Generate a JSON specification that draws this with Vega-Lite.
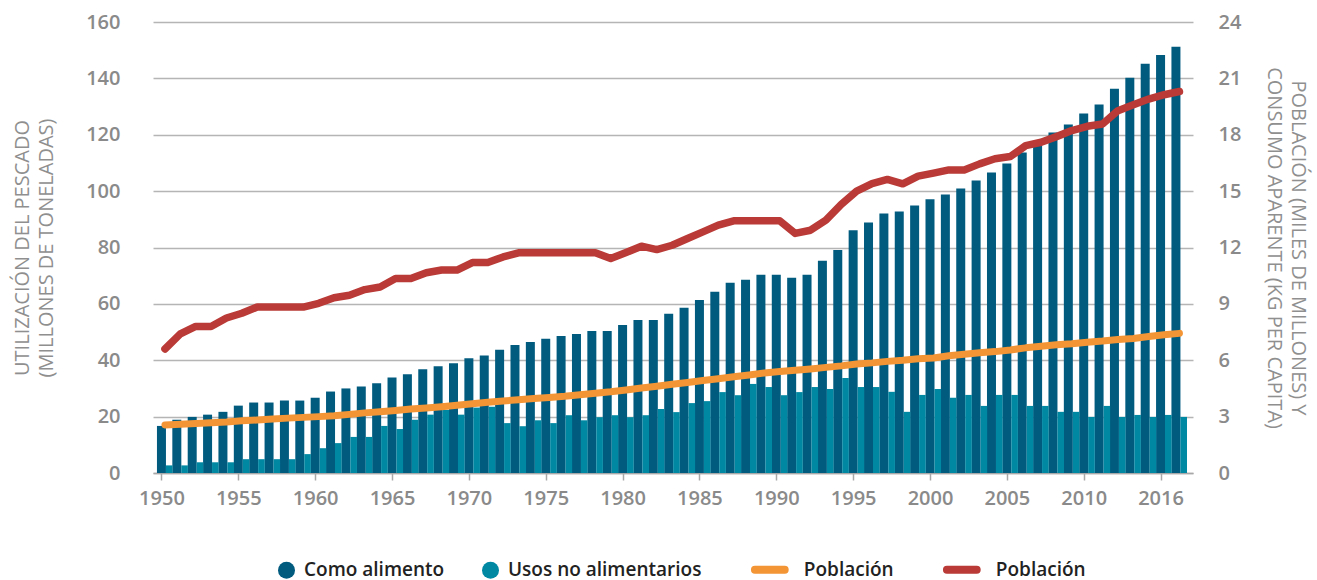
{
  "$schema": "https://vega.github.io/schema/vega-lite/v6.json",
  "width": 1040,
  "height": 451,
  "autosize": {"type": "none"},
  "padding": {"left": 153, "top": 22, "right": 124, "bottom": 107},
  "background": "white",
  "config": {
    "view": {"stroke": null},
    "font": "Open Sans",
    "axis": {
      "labelFont": "Open Sans",
      "labelFontSize": 20,
      "labelFontWeight": 600,
      "labelColor": "#8a8a8a",
      "titleFont": "Open Sans",
      "titleFontSize": 20,
      "titleFontWeight": 400,
      "titleColor": "#8f8f8f",
      "gridColor": "#b5b5b5",
      "gridWidth": 1.3,
      "domain": false,
      "ticks": false
    }
  },
  "data": {
    "values": [
      {"year": 1950, "food": 16.7, "nonfood": 2.7, "population": 2.56, "consumption": 6.6},
      {"year": 1951, "food": 18.9, "nonfood": 2.7, "population": 2.6, "consumption": 7.4},
      {"year": 1952, "food": 19.9, "nonfood": 3.8, "population": 2.64, "consumption": 7.8},
      {"year": 1953, "food": 20.7, "nonfood": 3.8, "population": 2.68, "consumption": 7.8},
      {"year": 1954, "food": 21.7, "nonfood": 3.8, "population": 2.72, "consumption": 8.25},
      {"year": 1955, "food": 23.9, "nonfood": 4.9, "population": 2.78, "consumption": 8.5},
      {"year": 1956, "food": 25.0, "nonfood": 4.9, "population": 2.82, "consumption": 8.83},
      {"year": 1957, "food": 25.0, "nonfood": 4.9, "population": 2.87, "consumption": 8.83},
      {"year": 1958, "food": 25.7, "nonfood": 4.9, "population": 2.92, "consumption": 8.83},
      {"year": 1959, "food": 25.7, "nonfood": 6.7, "population": 2.96, "consumption": 8.83},
      {"year": 1960, "food": 26.7, "nonfood": 8.8, "population": 3.0, "consumption": 9.03},
      {"year": 1961, "food": 28.9, "nonfood": 10.6, "population": 3.05, "consumption": 9.33},
      {"year": 1962, "food": 30.0, "nonfood": 12.8, "population": 3.12, "consumption": 9.46},
      {"year": 1963, "food": 30.7, "nonfood": 12.8, "population": 3.2, "consumption": 9.76},
      {"year": 1964, "food": 31.8, "nonfood": 16.7, "population": 3.26, "consumption": 9.9},
      {"year": 1965, "food": 33.9, "nonfood": 15.6, "population": 3.33, "consumption": 10.35},
      {"year": 1966, "food": 35.0, "nonfood": 18.9, "population": 3.4, "consumption": 10.35},
      {"year": 1967, "food": 36.8, "nonfood": 20.7, "population": 3.46, "consumption": 10.66},
      {"year": 1968, "food": 37.9, "nonfood": 22.4, "population": 3.53, "consumption": 10.8},
      {"year": 1969, "food": 38.9, "nonfood": 20.7, "population": 3.6, "consumption": 10.8},
      {"year": 1970, "food": 40.7, "nonfood": 23.2, "population": 3.68, "consumption": 11.2},
      {"year": 1971, "food": 41.7, "nonfood": 23.5, "population": 3.76, "consumption": 11.2},
      {"year": 1972, "food": 43.7, "nonfood": 17.7, "population": 3.83, "consumption": 11.5},
      {"year": 1973, "food": 45.4, "nonfood": 16.6, "population": 3.9, "consumption": 11.72},
      {"year": 1974, "food": 46.5, "nonfood": 18.7, "population": 3.96, "consumption": 11.72},
      {"year": 1975, "food": 47.6, "nonfood": 17.7, "population": 4.02, "consumption": 11.72},
      {"year": 1976, "food": 48.6, "nonfood": 20.5, "population": 4.08, "consumption": 11.72},
      {"year": 1977, "food": 49.3, "nonfood": 18.7, "population": 4.16, "consumption": 11.72},
      {"year": 1978, "food": 50.4, "nonfood": 19.8, "population": 4.24, "consumption": 11.72},
      {"year": 1979, "food": 50.4, "nonfood": 20.5, "population": 4.32, "consumption": 11.41},
      {"year": 1980, "food": 52.5, "nonfood": 19.8, "population": 4.42, "consumption": 11.73},
      {"year": 1981, "food": 54.3, "nonfood": 20.5, "population": 4.52, "consumption": 12.07},
      {"year": 1982, "food": 54.3, "nonfood": 22.7, "population": 4.62, "consumption": 11.89},
      {"year": 1983, "food": 56.5, "nonfood": 21.6, "population": 4.72, "consumption": 12.12},
      {"year": 1984, "food": 58.6, "nonfood": 24.8, "population": 4.82, "consumption": 12.48},
      {"year": 1985, "food": 61.4, "nonfood": 25.5, "population": 4.92, "consumption": 12.83},
      {"year": 1986, "food": 64.3, "nonfood": 28.7, "population": 5.02, "consumption": 13.19},
      {"year": 1987, "food": 67.5, "nonfood": 27.6, "population": 5.12, "consumption": 13.42},
      {"year": 1988, "food": 68.6, "nonfood": 31.6, "population": 5.22, "consumption": 13.42},
      {"year": 1989, "food": 70.3, "nonfood": 30.5, "population": 5.32, "consumption": 13.42},
      {"year": 1990, "food": 70.3, "nonfood": 27.6, "population": 5.4, "consumption": 13.42},
      {"year": 1991, "food": 69.3, "nonfood": 28.7, "population": 5.47, "consumption": 12.75},
      {"year": 1992, "food": 70.3, "nonfood": 30.5, "population": 5.54, "consumption": 12.92},
      {"year": 1993, "food": 75.3, "nonfood": 29.8, "population": 5.62, "consumption": 13.46},
      {"year": 1994, "food": 79.1, "nonfood": 33.7, "population": 5.7, "consumption": 14.3},
      {"year": 1995, "food": 86.1, "nonfood": 30.5, "population": 5.8, "consumption": 15.0},
      {"year": 1996, "food": 88.9, "nonfood": 30.5, "population": 5.86, "consumption": 15.4},
      {"year": 1997, "food": 92.1, "nonfood": 28.8, "population": 5.94, "consumption": 15.62},
      {"year": 1998, "food": 92.8, "nonfood": 21.7, "population": 6.0, "consumption": 15.39},
      {"year": 1999, "food": 94.9, "nonfood": 27.7, "population": 6.08, "consumption": 15.8},
      {"year": 2000, "food": 97.1, "nonfood": 29.8, "population": 6.12, "consumption": 15.96},
      {"year": 2001, "food": 98.8, "nonfood": 26.7, "population": 6.24, "consumption": 16.13},
      {"year": 2002, "food": 100.9, "nonfood": 27.7, "population": 6.32, "consumption": 16.13},
      {"year": 2003, "food": 103.8, "nonfood": 23.8, "population": 6.4, "consumption": 16.45},
      {"year": 2004, "food": 106.6, "nonfood": 27.7, "population": 6.46, "consumption": 16.72},
      {"year": 2005, "food": 109.8, "nonfood": 27.7, "population": 6.55, "consumption": 16.84},
      {"year": 2006, "food": 113.7, "nonfood": 23.8, "population": 6.66, "consumption": 17.42},
      {"year": 2007, "food": 116.5, "nonfood": 23.8, "population": 6.74, "consumption": 17.6},
      {"year": 2008, "food": 120.8, "nonfood": 21.7, "population": 6.82, "consumption": 17.9},
      {"year": 2009, "food": 123.6, "nonfood": 21.7, "population": 6.88, "consumption": 18.22},
      {"year": 2010, "food": 127.5, "nonfood": 19.9, "population": 6.96, "consumption": 18.45},
      {"year": 2011, "food": 130.7, "nonfood": 23.8, "population": 7.02, "consumption": 18.57},
      {"year": 2012, "food": 136.3, "nonfood": 19.9, "population": 7.1, "consumption": 19.28},
      {"year": 2013, "food": 140.2, "nonfood": 20.6, "population": 7.16, "consumption": 19.6},
      {"year": 2014, "food": 145.2, "nonfood": 19.9, "population": 7.26, "consumption": 19.9},
      {"year": 2015, "food": 148.3, "nonfood": 20.6, "population": 7.36, "consumption": 20.13},
      {"year": 2016, "food": 151.2, "nonfood": 19.9, "population": 7.43, "consumption": 20.3}
    ]
  },
  "encoding": {
    "x": {
      "field": "year",
      "type": "quantitative",
      "scale": {"domain": [1949.775, 2016.785], "nice": false, "zero": false},
      "axis": {
        "title": null,
        "values": [1950, 1955, 1960, 1965, 1970, 1975, 1980, 1985, 1990, 1995, 2000, 2005, 2010, 2015],
        "labelExpr": "datum.value == 2015 ? '2016' : datum.value",
        "grid": false,
        "domain": true,
        "domainColor": "#a8a8a8",
        "domainWidth": 1.5,
        "ticks": true,
        "tickColor": "#a8a8a8",
        "tickSize": 7,
        "tickWidth": 1.5,
        "labelPadding": 8,
        "labelFlush": false
      }
    }
  },
  "layer": [
    {
      "layer": [
        {
          "mark": {"type": "bar", "width": 9, "xOffset": 0},
          "encoding": {
            "y": {
              "field": "food",
              "type": "quantitative",
              "scale": {"domain": [0, 160], "nice": false},
              "axis": {
                "orient": "left",
                "values": [0, 20, 40, 60, 80, 100, 120, 140, 160],
                "grid": true,
                "labelPadding": 33,
                "title": ["UTILIZACIÓN DEL PESCADO", "(MILLONES DE TONELADAS)"],
                "titlePadding": 29,
                "titleLineHeight": 24
              }
            },
            "color": {
              "datum": "food",
              "type": "nominal",
              "scale": {
                "domain": ["food", "nonfood", "population", "consumption"],
                "range": ["#005b7f", "#0088a3", "#f39435", "#b93a36"]
              },
              "legend": {
                "orient": "none",
                "legendX": 124,
                "legendY": 533,
                "direction": "horizontal",
                "columns": 4,
                "title": null,
                "columnPadding": 36,
                "labelFont": "Open Sans",
                "labelFontSize": 19,
                "labelFontWeight": 600,
                "labelColor": "#222222",
                "labelOffset": 8,
                "labelLimit": 500,
                "symbolSize": 289,
                "labelExpr": "datum.value == 'food' ? 'Como alimento' : datum.value == 'nonfood' ? 'Usos no alimentarios' : datum.value == 'population' ? 'Población  ' : 'Población'",
                "encode": {
                  "symbols": {
                    "update": {
                      "shape": {"signal": "datum.value == 'population' || datum.value == 'consumption' ? 'M-2.3,0.6H1.2' : 'circle'"},
                      "size": {"value": 289},
                      "fill": {"signal": "datum.value == 'population' || datum.value == 'consumption' ? 'transparent' : scale('color', datum.value)"},
                      "stroke": {"signal": "scale('color', datum.value)"},
                      "strokeWidth": {"signal": "datum.value == 'population' || datum.value == 'consumption' ? 8 : 0"},
                      "strokeCap": {"value": "round"},
                      "opacity": {"value": 1},
                      "fillOpacity": {"value": 1},
                      "strokeOpacity": {"value": 1}
                    }
                  },
                  "labels": {
                    "update": {
                      "dx": {"signal": "datum.value == 'population' || datum.value == 'consumption' ? 11.8 : 0"},
                      "dy": {"signal": "datum.value == 'population' || datum.value == 'consumption' ? 5 : 0"}
                    }
                  }
                }
              }
            }
          }
        },
        {
          "mark": {"type": "bar", "width": 6.6, "xOffset": 7.76},
          "encoding": {
            "y": {
              "field": "nonfood",
              "type": "quantitative",
              "title": ["UTILIZACIÓN DEL PESCADO", "(MILLONES DE TONELADAS)"]
            },
            "color": {"datum": "nonfood", "type": "nominal"}
          }
        }
      ]
    },
    {
      "layer": [
        {
          "mark": {"type": "line", "strokeWidth": 7, "strokeCap": "round", "strokeJoin": "round", "xOffset": 3.5},
          "encoding": {
            "y": {
              "field": "population",
              "type": "quantitative",
              "scale": {"domain": [0, 24], "nice": false},
              "axis": {
                "orient": "right",
                "values": [0, 3, 6, 9, 12, 15, 18, 21, 24],
                "grid": false,
                "labelPadding": 25,
                "title": ["POBLACIÓN (MILES DE MILLONES) Y", "CONSUMO APARENTE (KG PER CAPITA)"],
                "titlePadding": 22.5,
                "titleLineHeight": 24
              }
            },
            "color": {"datum": "population", "type": "nominal"}
          }
        },
        {
          "mark": {"type": "line", "strokeWidth": 7.5, "strokeCap": "round", "strokeJoin": "round", "xOffset": 3.5},
          "encoding": {
            "y": {
              "field": "consumption",
              "type": "quantitative",
              "title": ["POBLACIÓN (MILES DE MILLONES) Y", "CONSUMO APARENTE (KG PER CAPITA)"]
            },
            "color": {"datum": "consumption", "type": "nominal"}
          }
        }
      ]
    }
  ],
  "resolve": {"scale": {"y": "independent"}}
}
